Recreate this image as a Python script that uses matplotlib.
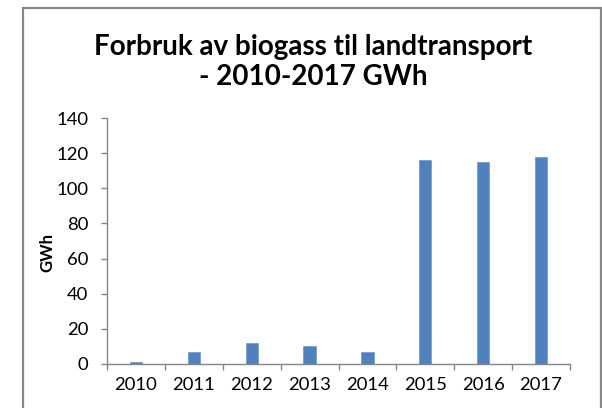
import matplotlib
matplotlib.use("Agg")
import matplotlib.pyplot as plt
from matplotlib.patches import Rectangle

years = ["2010", "2011", "2012", "2013", "2014", "2015", "2016", "2017"]
values = [1, 7, 12, 10, 7, 116, 115, 118]
yticks = [0, 20, 40, 60, 80, 100, 120, 140]

plt.rcParams['font.family'] = ['Lato', 'DejaVu Sans']

W, H = 602, 408
fig = plt.figure(figsize=(W / 100, H / 100), dpi=100)

# outer chart frame
fig.patches.append(Rectangle((23 / W, -0.05), (601 - 23) / W, (H - 8) / H + 0.05,
                             transform=fig.transFigure, fill=False,
                             edgecolor='#878787', linewidth=1.6))

ax = fig.add_axes([107 / W, 1 - 364 / H, (570 - 107) / W, (364 - 118) / H])
x = list(range(len(years)))
ax.bar(x, values, width=0.21, color='#4F81BD', edgecolor='#6f97cc', linewidth=0.5)

ax.set_xlim(-0.5, len(years) - 0.5)
ax.set_ylim(0, 140)
ax.set_yticks(yticks)
ax.set_yticklabels([str(v) for v in yticks], fontsize=13.3)
ax.set_xticks(x)
ax.set_xticklabels(years, fontsize=13.3)
ax.set_xticks([i - 0.5 for i in range(len(years) + 1)], minor=True)
ax.tick_params(axis='x', which='major', length=0, pad=9)
ax.tick_params(axis='x', which='minor', length=4.3, color='#868686', width=1)
ax.tick_params(axis='y', length=4.3, color='#868686', width=1, pad=9)

for s in ['top', 'right']:
    ax.spines[s].set_visible(False)
for s in ['left', 'bottom']:
    ax.spines[s].set_color('#868686')
    ax.spines[s].set_linewidth(1)

fig.text(47 / W, 1 - 253 / H, "GWh", rotation=90, ha='center', va='center',
         fontsize=12, fontweight='bold')

fig.text(313 / W, 1 - 55 / H, "Forbruk av biogass til landtransport",
         ha='center', va='baseline', fontsize=20, fontweight='bold')
fig.text(313 / W, 1 - 85 / H, "- 2010-2017 GWh",
         ha='center', va='baseline', fontsize=20, fontweight='bold')

fig.savefig("out.png", dpi=100)
